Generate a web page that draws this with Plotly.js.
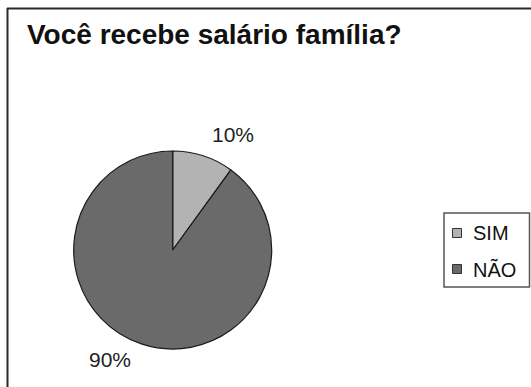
<!DOCTYPE html>
<html>
<head>
<meta charset="utf-8">
<script src="https://cdn.plot.ly/plotly-3.0.1.min.js"></script>
<style>
  html, body { margin: 0; padding: 0; background: #fff; }
  #chart { width: 531px; height: 387px; }
</style>
</head>
<body>
<div id="chart"></div>
<script>
// Answers to the survey question
const categories = ['SIM', 'NÃO'];
const values = [10, 90];
const sliceColors = ['#b3b3b3', '#6a6a6a'];

const W = 531, H = 387;
const px = x => x / W;
const py = y => 1 - y / H;
const FONT = 'Liberation Sans, Arial, sans-serif';

const total = values.reduce((a, b) => a + b, 0);
const pctText = values.map(v => Math.round(v / total * 100) + '%');

const pie = {
  type: 'pie',
  labels: categories,
  values: values,
  sort: false,
  direction: 'clockwise',
  rotation: 0,
  marker: { colors: sliceColors, line: { color: '#1a1a1a', width: 1.2 } },
  textinfo: 'none',
  hoverinfo: 'label+percent',
  domain: { x: [px(73.2), px(272.2)], y: [py(349), py(151)] }
};

// percentage labels placed around the pie
const labelPos = [[233, 135], [110, 359]];
const annotations = pctText.map((t, i) => ({
  xref: 'paper', yref: 'paper',
  x: px(labelPos[i][0]), y: py(labelPos[i][1]),
  xanchor: 'center', yanchor: 'middle',
  text: t, showarrow: false,
  font: { family: FONT, size: 21, color: '#222' }
}));

const frame = { color: '#2a2a2a', width: 2 };
const legendBox = { color: '#555', width: 1.5 };
const shapes = [
  // outer chart frame (top and left edges)
  { type: 'line', xref: 'paper', yref: 'paper', x0: px(7), x1: px(531), y0: py(8.5), y1: py(8.5), line: frame },
  { type: 'line', xref: 'paper', yref: 'paper', x0: px(7.5), x1: px(7.5), y0: py(8), y1: py(387), line: frame },
  // legend box
  { type: 'rect', xref: 'paper', yref: 'paper', x0: px(444), x1: px(529.5), y0: py(213), y1: py(287), line: legendBox }
];

// legend rows: swatch + category name
const rowY = [233, 269];
categories.forEach((c, i) => {
  shapes.push({
    type: 'rect', xref: 'paper', yref: 'paper',
    x0: px(452.5), x1: px(461.5), y0: py(rowY[i] + 4.5), y1: py(rowY[i] - 4.5),
    fillcolor: sliceColors[i], line: { color: '#333', width: 1 }
  });
  annotations.push({
    xref: 'paper', yref: 'paper',
    x: px(471), y: py(rowY[i]),
    xanchor: 'left', yanchor: 'middle',
    text: c, showarrow: false,
    font: { family: FONT, size: 20, color: '#111' }
  });
});

const layout = {
  width: W, height: H,
  margin: { l: 0, r: 0, t: 0, b: 0 },
  paper_bgcolor: '#ffffff',
  plot_bgcolor: '#ffffff',
  font: { family: FONT, color: '#111' },
  title: {
    text: '<b>Você recebe salário família?</b>',
    xref: 'container', yref: 'container',
    x: px(27), xanchor: 'left',
    y: 1 - 34 / H, yanchor: 'middle',
    font: { family: FONT, size: 28, color: '#111' }
  },
  showlegend: false,
  shapes: shapes,
  annotations: annotations
};

Plotly.newPlot('chart', [pie], layout, { displayModeBar: false, staticPlot: true });
</script>
</body>
</html>
